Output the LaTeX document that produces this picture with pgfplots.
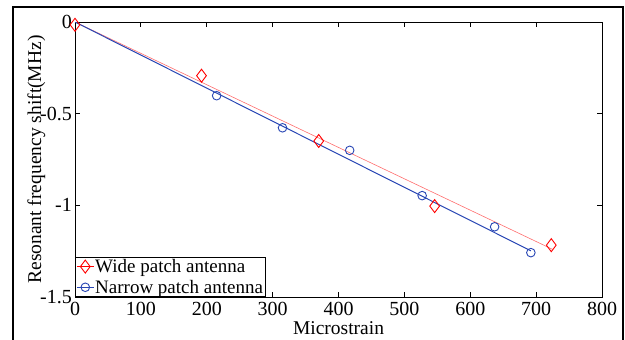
\documentclass[border=0pt]{standalone}
\usepackage{fontspec}
\setmainfont{Liberation Serif}
\usepackage{pgfplots}
\pgfplotsset{compat=1.18}
\definecolor{mred}{RGB}{255,0,0}
\definecolor{mblue}{RGB}{40,70,180}
\definecolor{fitred}{RGB}{255,110,110}
\begin{document}
\begin{tikzpicture}[x=1bp,y=1bp]
\useasboundingbox (0,0) rectangle (625,-339);
\draw[line width=2bp] (13,-345) -- (13,-7) -- (623,-7) -- (623,-345);
\begin{axis}[
  at={(75bp,-297bp)}, anchor=south west,
  scale only axis, width=527bp, height=275bp,
  xmin=0, xmax=800, ymin=-1.5, ymax=0,
  xtick={0,100,200,300,400,500,600,700,800},
  xticklabels={0,100,200,300,400,500,600,700,800},
  ytick={-1.5,-1,-0.5,0},
  yticklabels={-1.5,-1,-0.5,0},
  tick align=inside, major tick length=5bp,
  axis line style={line width=1bp},
  every tick/.style={black, line width=0.8bp},
  tick label style={font=\fontsize{20bp}{20bp}\selectfont},
  xticklabel style={inner sep=0pt, yshift=-5bp, text depth=0pt},
  yticklabel style={inner sep=0pt, xshift=-3bp},
  xlabel={Microstrain},
  ylabel={Resonant frequency shift(MHz)},
  label style={font=\fontsize{19.5bp}{19.5bp}\selectfont},
  xlabel style={at={(axis description cs:0.5,0)}, anchor=base, yshift=-37bp, inner sep=0pt, text height=1.4ex},
  ylabel style={at={(axis description cs:-0.0645,0.5)}, anchor=base, rotate=0},
  legend cell align=left,
  legend image code/.code={\draw[mark repeat=2,mark phase=2,#1] plot coordinates {(0bp,0bp) (8.5bp,0bp) (17bp,0bp)};},
  legend style={at={(0,0)}, anchor=south west, draw=black, line width=0.8bp,
    font=\fontsize{19bp}{19bp}\selectfont, inner sep=1bp, row sep=4bp,
    nodes={inner sep=1bp},
    /tikz/every even column/.append style={column sep=0pt}},
]
\addplot[fitred, line width=0.6bp, forget plot] coordinates {(0,0) (725,-1.24)};
\addplot[mblue, line width=1bp, forget plot] coordinates {(0,0) (692,-1.248)};
\addplot[only marks, mark=diamond, mark size=6.5bp, mred, mark options={line width=0.9bp, fill=none}, forget plot]
  coordinates {(0,-0.015) (192,-0.293) (370,-0.649) (546,-1.004) (723,-1.217)};
\addplot[only marks, mark=o, mark size=4.3bp, mblue, mark options={line width=0.9bp}, forget plot]
  coordinates {(215,-0.402) (315,-0.577) (417,-0.700) (527,-0.947) (637,-1.117) (692,-1.258)};
\addlegendimage{mred, line width=0.8bp, mark=diamond, mark size=6.5bp, mark options={line width=0.9bp}}
\addlegendentry{Wide patch antenna}
\addlegendimage{mblue, line width=0.8bp, mark=o, mark size=4.3bp, mark options={line width=0.9bp}}
\addlegendentry{Narrow patch antenna}
\end{axis}
\end{tikzpicture}
\end{document}
